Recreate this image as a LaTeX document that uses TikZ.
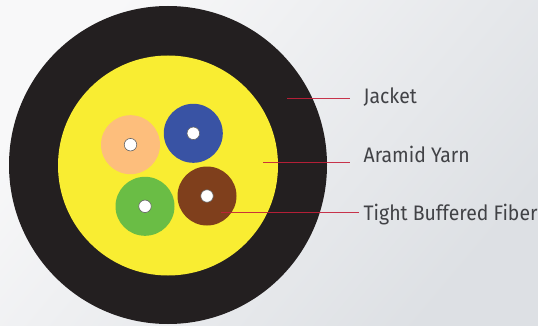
\documentclass[tikz,border=0pt]{standalone}
\usepackage{fontspec}
\setmainfont[FakeStretch=0.925]{Fira Sans}
\definecolor{jacketc}{HTML}{231F20}
\definecolor{yarnc}{HTML}{F9ED32}
\definecolor{peachc}{HTML}{FDBE7C}
\definecolor{bluec}{HTML}{3953A4}
\definecolor{greenc}{HTML}{6ABD45}
\definecolor{brownc}{HTML}{7F3F1C}
\definecolor{leaderc}{HTML}{C4203A}
\definecolor{labelc}{HTML}{414246}
\definecolor{bgtl}{HTML}{F8F8F9}
\definecolor{bgbr}{HTML}{DDE0E4}
\tikzset{
  x=1pt,y=-1pt,
  disc/.style={circle,draw=none,inner sep=0pt,outer sep=0pt,minimum size=#1},
  fiber/.style={disc=59pt},
  corec/.style={circle,fill=white,draw=black!60,line width=0.6pt,inner sep=0pt,minimum size=12.5pt},
  leader/.style={draw=leaderc,line width=0.9pt,opacity=0.9},
  lbl/.style={anchor=base west,inner sep=0pt,text=labelc,font=\fontsize{21}{24}\selectfont}
}
\begin{document}
\begin{tikzpicture}
\useasboundingbox (0,0) rectangle (538,326);
\shade[shading=axis,top color=bgtl,bottom color=bgbr,shading angle=50] (0,0) rectangle (538,326);
\node[disc=318pt,fill=jacketc] (jacket) at (168,165) {};
\node[disc=220pt,fill=yarnc] (yarn) at (168,165.5) {};
\node[fiber,fill=peachc] (peach) at (130.5,144.7) {};
\node[fiber,fill=bluec] (blue) at (193.3,133.3) {};
\node[fiber,fill=greenc] (green) at (145,206.3) {};
\node[fiber,fill=brownc] (brown) at (207,196) {};
\node[corec] (cpeach) at (peach) {};
\node[corec] (cblue) at (blue) {};
\node[corec] (cgreen) at (green) {};
\node[corec] (cbrown) at (brown) {};
\node[lbl] (ljacket) at (363.5,104) {Jacket};
\node[lbl] (lyarn) at (363.5,162) {Aramid Yarn};
\node[lbl] (lfiber) at (363.5,220) {Tight Buffered Fiber};
\coordinate (jacketend) at (287,98.5);
\coordinate (jacketlab) at (350,98.5);
\coordinate (yarnend) at (263,162.7);
\coordinate (yarnlab) at (350,162.7);
\coordinate (fiberend) at (221,212.7);
\coordinate (fiberlab) at (358.7,212.7);
\draw[leader] (jacketend) -- (jacketlab);
\draw[leader] (yarnend) -- (yarnlab);
\draw[leader] (fiberend) -- (fiberlab);
\end{tikzpicture}
\end{document}
